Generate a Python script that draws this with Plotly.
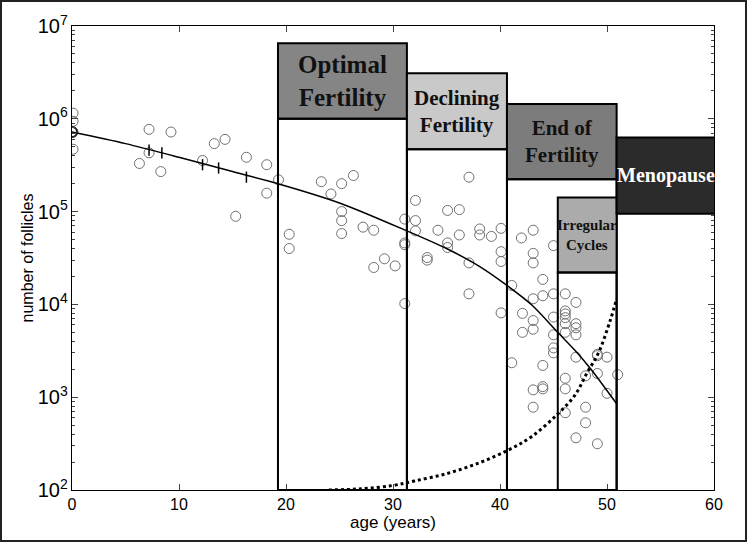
import numpy as np
import plotly.graph_objects as go

# ---------------- data ----------------
obs_age = [0.1, 0.1, 0.1, 0.1, 6.3, 7.2, 7.2, 8.3, 9.25, 12.2, 13.3, 14.3, 15.3, 16.3,
           18.2, 18.2, 19.3, 20.3, 20.3, 23.3, 24.2, 25.2, 25.2, 25.2, 25.2, 26.3, 27.2,
           28.2, 28.2, 29.2, 30.2, 31.1, 31.1, 31.1, 31.1, 32.1, 32.1, 32.1, 33.2, 33.2,
           34.2, 35.1, 35.1, 35.1, 36.2, 36.2, 37.1, 37.1, 37.1, 38.1, 38.1, 39.2,
           40.1, 40.1, 40.1, 40.1, 41.1, 41.1, 42.0, 42.1, 42.1,
           43.1, 43.1, 43.1, 43.1, 43.1, 43.1, 43.1, 43.1,
           44.0, 44.0, 44.0, 44.0, 44.0,
           45.0, 45.0, 45.0, 45.0, 45.0, 45.0,
           46.1, 46.1, 46.1, 46.1, 46.1, 46.1, 46.1, 46.1, 46.1,
           47.1, 47.1, 47.1, 47.1, 47.1, 47.1,
           48.0, 48.0, 48.0, 49.1, 49.1, 49.1, 49.1, 50.0, 50.0, 51.0]
obs_follicles = [1.15e6, 9.4e5, 7.2e5, 4.7e5, 3.3e5, 7.7e5, 4.3e5, 2.7e5, 7.2e5, 3.55e5, 5.4e5,
                 6.0e5, 8.9e4, 3.85e5, 3.2e5, 1.58e5, 2.2e5, 5.7e4, 4.0e4, 2.1e5, 1.55e5,
                 2.0e5, 1.0e5, 8.0e4, 5.8e4, 2.45e5, 6.8e4, 6.3e4, 2.5e4, 3.1e4, 2.6e4,
                 8.3e4, 4.6e4, 4.4e4, 1.02e4, 1.32e5, 8.0e4, 6.2e4, 3.2e4, 3.0e4,
                 6.3e4, 1.03e5, 4.6e4, 4.1e4, 1.05e5, 5.6e4, 2.35e5, 2.8e4, 1.3e4, 6.5e4, 5.6e4,
                 5.4e4, 6.6e4, 3.7e4, 2.9e4, 8.1e3, 1.6e4, 2.35e3, 5.2e4, 8.0e3, 5.0e3,
                 6.3e4, 3.55e4, 2.8e4, 1.15e4, 6.7e3, 5.4e3, 1.2e3, 780,
                 1.86e4, 1.24e4, 2.2e3, 1.3e3, 1.23e3,
                 4.3e4, 1.3e4, 7.3e3, 4.7e3, 3.4e3, 3.0e3,
                 1.3e4, 8.5e3, 7.9e3, 7.2e3, 6.2e3, 5.0e3, 1.6e3, 1.23e3, 680,
                 1.05e4, 6.2e3, 5.6e3, 4.7e3, 2.7e3, 365,
                 1.7e3, 780, 530, 2.9e3, 2.8e3, 1.8e3, 315, 2.7e3, 1.1e3, 1.75e3]

fit_age = [0, 5, 10, 15, 19.25, 25, 31.3, 35, 38, 40.65, 43, 45.4, 47, 48.5, 50.9]
fit_follicles = [7.2e5, 5.4e5, 3.85e5, 2.7e5, 2.0e5, 1.24e5, 6.2e4, 4.0e4, 2.6e4,
                 1.6e4, 9.8e3, 5.0e3, 3.2e3, 2.0e3, 850]

tick_age = [7.2, 8.4, 12.2, 13.7, 16.3]
tick_follicles = [4.6e5, 4.3e5, 3.2e5, 2.95e5, 2.35e5]

dot_age = [24, 27, 30, 32, 35, 38, 40.8, 43, 45.4, 47, 48.1, 49.2, 50.3, 50.9]
dot_follicles = [100, 103, 112, 125, 150, 195, 270, 380, 660, 1050, 1800, 3000, 6700, 11500]

phase_names = ["Optimal<br>Fertility", "Declining<br>Fertility", "End of<br>Fertility",
               "Irregular<br>Cycles", "Menopause"]
phase_start = [19.25, 31.3, 40.65, 45.4, 50.9]
phase_end = [31.3, 40.65, 50.9, 50.9, 60.15]
label_low = [1.0e6, 4.7e5, 2.23e5, 2.2e4, 9.5e4]
label_high = [6.5e6, 3.1e6, 1.44e6, 1.42e5, 6.3e5]
phase_colors = ["#858585", "#c9c9c9", "#7c7c7c", "#ababab", "#2b2b2b"]
phase_text_colors = ["#111111", "#111111", "#111111", "#111111", "#ffffff"]
phase_font_sizes = [25, 21, 21, 15, 20]
phase_to_floor = [True, True, True, True, False]

x_ticks = [0, 10, 20, 30, 40, 50, 60]

# ---------------- figure ----------------
fig = go.Figure()

fig.add_trace(go.Scatter(x=obs_age, y=obs_follicles, mode="markers",
                         marker=dict(symbol="circle-open", size=10,
                                     line=dict(width=1, color="#707070"), color="#707070"),
                         showlegend=False, hoverinfo="skip"))
fig.add_trace(go.Scatter(x=fit_age, y=fit_follicles, mode="lines",
                         line=dict(color="black", width=1.5, shape="spline", smoothing=0.8),
                         showlegend=False))
fig.add_trace(go.Scatter(x=tick_age, y=tick_follicles, mode="markers",
                         marker=dict(symbol="line-ns", size=8, color="black",
                                     line=dict(width=1.5, color="black")),
                         showlegend=False))
fig.add_trace(go.Scatter(x=fit_age[:1], y=fit_follicles[:1], mode="markers",
                         marker=dict(symbol="circle-open", size=10, color="#222222",
                                     line=dict(width=2, color="#222222")),
                         showlegend=False))
fig.add_trace(go.Scatter(x=dot_age, y=dot_follicles, mode="lines",
                         line=dict(color="black", width=3, dash="dot", shape="spline"),
                         showlegend=False))

shapes = []
annotations = []
for i, name in enumerate(phase_names):
    x0, x1 = phase_start[i], phase_end[i]
    shapes.append(dict(type="rect", xref="x", yref="y", x0=x0, x1=x1,
                       y0=label_low[i], y1=label_high[i],
                       fillcolor=phase_colors[i], line=dict(color="black", width=2),
                       layer="above"))
    if phase_to_floor[i]:
        shapes.append(dict(type="rect", xref="x", yref="y", x0=x0, x1=x1,
                           y0=100, y1=label_low[i],
                           fillcolor="rgba(0,0,0,0)", line=dict(color="black", width=2),
                           layer="above"))
    yc = (np.log10(label_low[i]) + np.log10(label_high[i])) / 2
    annotations.append(dict(x=(x0 + x1) / 2, y=yc, xref="x", yref="y", text="<b>%s</b>" % name,
                            showarrow=False,
                            font=dict(family="Liberation Serif", size=phase_font_sizes[i],
                                      color=phase_text_colors[i])))

L, R, T, B = 72, 33, 26, 52
W, H = 747, 542
pw, ph = W - L - R, H - T - B
shapes.append(dict(type="rect", xref="paper", yref="paper",
                   x0=-(L - 1) / pw, x1=1 + (R - 1) / pw, y0=-(B - 1) / ph, y1=1 + (T - 1) / ph,
                   line=dict(color="#222222", width=2), fillcolor="rgba(0,0,0,0)", layer="above"))

fig.update_layout(
    width=W, height=H,
    margin=dict(l=L, r=R, t=T, b=B),
    paper_bgcolor="white", plot_bgcolor="white",
    shapes=shapes, annotations=annotations,
    font=dict(family="Liberation Sans", color="black"),
)
fig.update_xaxes(range=[0, 60], tickvals=x_ticks, ticks="inside", ticklen=6,
                 showline=True, linecolor="black", linewidth=1, mirror="allticks",
                 showgrid=False, zeroline=False, tickfont=dict(size=16),
                 title=dict(text="age (years)", font=dict(size=17), standoff=0))
fig.update_yaxes(type="log", range=[2, 7], dtick=1, exponentformat="power",
                 ticks="inside", ticklen=6,
                 minor=dict(ticks="inside", ticklen=3, dtick="D1", showgrid=False),
                 showline=True, linecolor="black", linewidth=1, mirror="allticks",
                 showgrid=False, zeroline=False, tickfont=dict(size=16),
                 title=dict(text="number of follicles", font=dict(size=16), standoff=0))

fig.write_html("out.html", config={"displayModeBar": False},
               post_script="document.body.style.margin='0';document.body.style.overflow='hidden';")
